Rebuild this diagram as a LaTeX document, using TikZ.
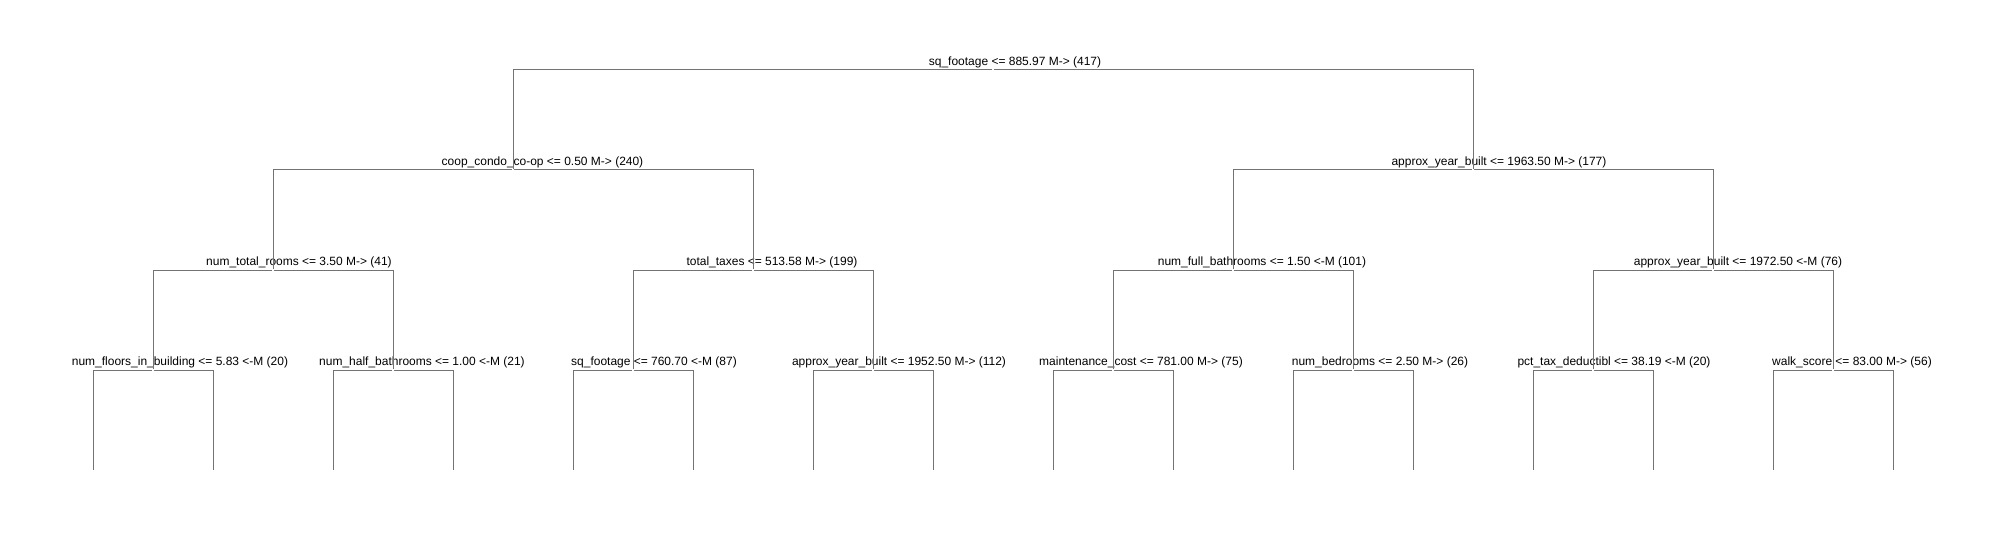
\documentclass[tikz,border=0pt]{standalone}
\usepackage{fontspec}
\setmainfont{Liberation Sans}
\tikzset{
	branch/.style={draw=black!55, line width=0.28pt},
	lab/.style={inner sep=0pt, text depth=0pt, font=\fontsize{3.41}{4.1}\selectfont},
}
\begin{document}
\begin{tikzpicture}
            \tikzset{split/.style 2 args={inner sep=0pt, minimum size=0pt, label={[lab, xshift=#1cm, yshift=0.035cm]above:{#2}}}};
            \useasboundingbox (0,0) rectangle (20.02,5.40);
            
            \node[split={0.22}{sq\_footage <= 885.97 M-> (417)}] (1) at (9.93,4.70) {};
            \node[split={0.295}{coop\_condo\_co-op <= 0.50 M-> (240)}] (2) at (5.13,3.70) {};
            \node[split={0.26}{approx\_year\_built <= 1963.50 M-> (177)}] (3) at (14.73,3.70) {};
            \node[split={0.26}{num\_total\_rooms <= 3.50 M-> (41)}] (4) at (2.73,2.70) {};
            \node[split={0.19}{total\_taxes <= 513.58 M-> (199)}] (5) at (7.53,2.70) {};
            \node[split={0.29}{num\_full\_bathrooms <= 1.50 <-M (101)}] (6) at (12.33,2.70) {};
            \node[split={0.25}{approx\_year\_built <= 1972.50 <-M (76)}] (7) at (17.13,2.70) {};
            \node[split={0.27}{num\_floors\_in\_building <= 5.83 <-M (20)}] (8) at (1.53,1.70) {};
            \node[split={0.29}{num\_half\_bathrooms <= 1.00 <-M (21)}] (9) at (3.93,1.70) {};
            \node[split={0.21}{sq\_footage <= 760.70 <-M (87)}] (10) at (6.33,1.70) {};
            \node[split={0.26}{approx\_year\_built <= 1952.50 M-> (112)}] (11) at (8.73,1.70) {};
            \node[split={0.28}{maintenance\_cost <= 781.00 M-> (75)}] (12) at (11.13,1.70) {};
            \node[split={0.27}{num\_bedrooms <= 2.50 M-> (26)}] (13) at (13.53,1.70) {};
            \node[split={0.21}{pct\_tax\_deductibl <= 38.19 <-M (20)}] (14) at (15.93,1.70) {};
            \node[split={0.19}{walk\_score <= 83.00 M-> (56)}] (15) at (18.33,1.70) {};
            
            % leaves
            \foreach \i [evaluate=\i as \x using 0.93+1.2*(\i-16)] in {16,...,31}
                \coordinate (\i) at (\x,0.70);
            
            % branches
            \foreach \i [evaluate=\i as \l using int(2*\i), evaluate=\i as \r using int(2*\i+1)] in {1,...,15}
                \draw[branch] (\l) |- (\i) -| (\r);
        \end{tikzpicture}
\end{document}
